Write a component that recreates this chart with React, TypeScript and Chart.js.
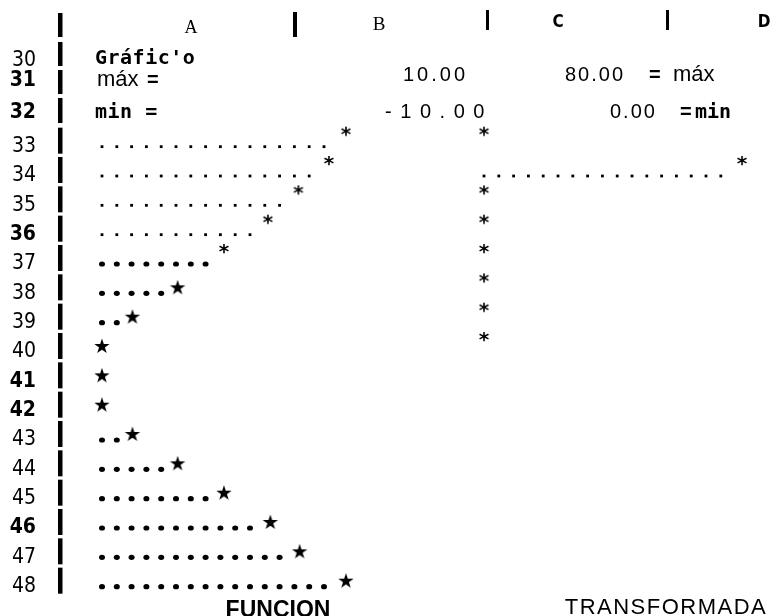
import React, { useEffect, useRef } from "react";
import { Chart, registerables } from "chart.js";

Chart.register(...registerables);

// ---------------- data ----------------
const columnLetters = ["A", "B", "C", "D"];
const headerRowNumbers = [30, 31, 32];
const plotRows = [33, 34, 35, 36, 37, 38, 39, 40, 41, 42, 43, 44, 45, 46, 47, 48];
const funcValues = [10, 8.6, 6.1, 3.6, 0, -3.8, -7.5, -10, -10, -10, -7.5, -3.8, 0, 3.8, 6.2, 10];
const transRows = [33, 34, 35, 36, 37, 38, 39, 40];
const transValues = [0, 80, 0, 0, 0, 0, 0, 0];
const funcMax = 10;
const funcMin = -10;
const transMax = 80;
const transMin = 0;
const boldRowNumbers = [31, 32, 36, 41, 42, 46];
const sheetTitle = "Gráfic'o";
const maxLabel = "máx";
const minLabel = "min";
const funcTitle = "FUNCION";
const transTitle = "TRANSFORMADA";

// ---------------- styles ----------------
const INK = "#000";
const funcBoldDotsFrom = 4; // index in plotRows
const funcBoldStarFrom = 5;
const dotStep = 14.8;

function makeGlyph(ch: string, font: string, dy: number) {
  const c = document.createElement("canvas");
  const w = 28;
  const h = 2 * (Math.abs(dy) + 15);
  c.width = w;
  c.height = h;
  const g = c.getContext("2d")!;
  g.font = font;
  g.fillStyle = INK;
  g.textAlign = "center";
  g.textBaseline = "alphabetic";
  const m = g.measureText(ch);
  const base = h / 2 + dy + (m.actualBoundingBoxAscent - m.actualBoundingBoxDescent) / 2;
  g.fillText(ch, w / 2, base);
  return c;
}

function txt(
  ctx: CanvasRenderingContext2D,
  s: string,
  x: number,
  y: number,
  font: string,
  align: CanvasTextAlign = "left",
  spacing = 0
) {
  ctx.save();
  ctx.font = font;
  ctx.fillStyle = INK;
  ctx.textAlign = align;
  ctx.textBaseline = "alphabetic";
  (ctx as any).letterSpacing = spacing + "px";
  ctx.fillText(s, x, y);
  ctx.restore();
}

const sheetPlugin = {
  id: "sheet",
  beforeDatasetsDraw(chart: any) {
    const ctx = chart.ctx as CanvasRenderingContext2D;
    const groups = [
      { ds: 0, scale: chart.scales.x, min: funcMin },
      { ds: 1, scale: chart.scales.x2, min: transMin },
    ];
    ctx.save();
    ctx.fillStyle = INK;
    for (const g of groups) {
      const meta = chart.getDatasetMeta(g.ds);
      const x0 = g.scale.getPixelForValue(g.min);
      meta.data.forEach((pt: any, i: number) => {
        const n = Math.floor((pt.x - x0 - 14) / dotStep) + 1;
        const bold = g.ds === 0 && i >= funcBoldDotsFrom;
        for (let k = 0; k < n; k++) {
          const dx = x0 + k * dotStep;
          if (bold) {
            ctx.beginPath();
            ctx.ellipse(dx, pt.y, 3, 2.6, 0, 0, Math.PI * 2);
            ctx.fill();
          } else {
            ctx.fillRect(dx - 1.4, pt.y - 1.4, 2.8, 2.8);
          }
        }
      });
    }
    ctx.restore();
  },
  afterDraw(chart: any) {
    const ctx = chart.ctx as CanvasRenderingContext2D;
    const y = chart.scales.y;
    const left = chart.chartArea.left;
    ctx.save();
    ctx.fillStyle = INK;
    // left border bar segments
    const segs: [number, number][] = [
      [13, 37],
      [42, 66],
      [70, 94],
      [98, 123],
    ];
    plotRows.forEach((r) => {
      const p = y.getPixelForValue(r);
      segs.push([p - 19, p + 7]);
    });
    segs.forEach(([a, b]) => ctx.fillRect(left - 3, a, 4.5, b - a));
    // column separators in header
    ctx.fillRect(293, 12, 4, 25);
    ctx.fillRect(486, 10, 3, 20);
    ctx.fillRect(666, 10, 3, 20);
    ctx.restore();

    // column letters
    txt(ctx, columnLetters[0], 191, 33, "18px 'Liberation Serif'", "center");
    txt(ctx, columnLetters[1], 379, 30, "19px 'Liberation Sans Narrow'", "center");
    txt(ctx, columnLetters[2], 558, 27, "bold 17px 'DejaVu Sans Condensed'", "center");
    txt(ctx, columnLetters[3], 764, 27, "bold 17px 'DejaVu Sans Condensed'", "center");

    // header row numbers
    const rowY = [66, 86, 118];
    headerRowNumbers.forEach((r, i) => {
      const bold = boldRowNumbers.includes(r);
      txt(ctx, String(r), 36, rowY[i], (bold ? "bold " : "") + "21px 'DejaVu Sans Condensed'", "right");
    });

    // row 30
    txt(ctx, sheetTitle, 95, 64, "bold 20px 'DejaVu Sans Mono'", "left", 0.5);
    // row 31
    txt(ctx, maxLabel, 97, 86, "22px 'Liberation Sans'");
    txt(ctx, "=", 147, 86, "bold 20px 'Liberation Sans'");
    txt(ctx, funcMax.toFixed(2), 403, 81, "20px 'Liberation Sans'", "left", 3);
    txt(ctx, transMax.toFixed(2), 565, 81, "20px 'Liberation Sans'", "left", 2);
    txt(ctx, "=", 649, 81, "bold 20px 'Liberation Sans'");
    txt(ctx, maxLabel, 673, 81, "22px 'Liberation Sans'");
    // row 32
    txt(ctx, minLabel + " =", 95, 118, "bold 20px 'DejaVu Sans Mono'", "left", 0.5);
    txt(ctx, funcMin.toFixed(2).split("").join(" "), 385, 118, "20px 'Liberation Sans'", "left", 1.5);
    txt(ctx, transMin.toFixed(2), 610, 118, "20px 'Liberation Sans'", "left", 2);
    txt(ctx, "=", 680, 118, "bold 20px 'Liberation Sans'");
    txt(ctx, minLabel, 695, 118, "bold 20px 'DejaVu Sans Mono'");

    // bottom titles
    txt(ctx, funcTitle, 278, 617, "bold 23px 'Liberation Sans'", "center");
    txt(ctx, transTitle, 666, 614, "22px 'Liberation Sans'", "center", 1.5);
  },
};

export default function App() {
  const ref = useRef<HTMLCanvasElement | null>(null);

  useEffect(() => {
    const canvas = ref.current;
    if (!canvas) return;
    const smallStar = makeGlyph("*", "bold 20px 'DejaVu Sans'", -15);
    const boldStar = makeGlyph("\u2605", "20px 'DejaVu Sans'", -6);

    const chart = new Chart(canvas, {
      type: "scatter",
      data: {
        datasets: [
          {
            label: funcTitle,
            data: plotRows.map((r, i) => ({ x: funcValues[i], y: r })),
            xAxisID: "x",
            yAxisID: "y",
            pointStyle: (c: any) => (c.dataIndex >= funcBoldStarFrom ? boldStar : smallStar),
            pointRadius: 6,
            backgroundColor: INK,
            borderColor: INK,
          },
          {
            label: transTitle,
            data: transRows.map((r, i) => ({ x: transValues[i], y: r })),
            xAxisID: "x2",
            yAxisID: "y",
            pointStyle: smallStar,
            pointRadius: 6,
            backgroundColor: INK,
            borderColor: INK,
          },
        ],
      },
      options: {
        responsive: false,
        animation: false,
        events: [],
        layout: { padding: 0, autoPadding: false },
        plugins: { legend: { display: false }, tooltip: { enabled: false } },
        scales: {
          x: { type: "linear", display: false, min: -13.36, max: 44.92 },
          x2: { type: "linear", display: false, min: -131.17, max: 89.3 },
          y: {
            type: "linear",
            position: "left",
            reverse: true,
            min: 28,
            max: 49,
            grid: { display: false, drawTicks: false },
            border: { display: false },
            afterBuildTicks: (axis: any) => {
              axis.ticks = plotRows.map((v) => ({ value: v }));
            },
            afterFit: (axis: any) => {
              axis.width = 61;
              axis.paddingTop = 0;
              axis.paddingBottom = 0;
            },
            ticks: {
              padding: 25,
              color: INK,
              labelOffset: 0,
              callback: (v: any) => String(v),
              font: (c: any) => ({
                family: "'DejaVu Sans Condensed'",
                size: 21,
                weight: boldRowNumbers.includes(c.tick?.value) ? "bold" : "normal",
              }),
            },
          },
        },
      } as any,
      plugins: [sheetPlugin],
    });
    return () => chart.destroy();
  }, []);

  return (
    <div style={{ position: "fixed", left: 0, top: 0, width: 772, height: 616, background: "#fff" }}>
      <canvas ref={ref} width={772} height={616} style={{ display: "block" }} />
    </div>
  );
}
